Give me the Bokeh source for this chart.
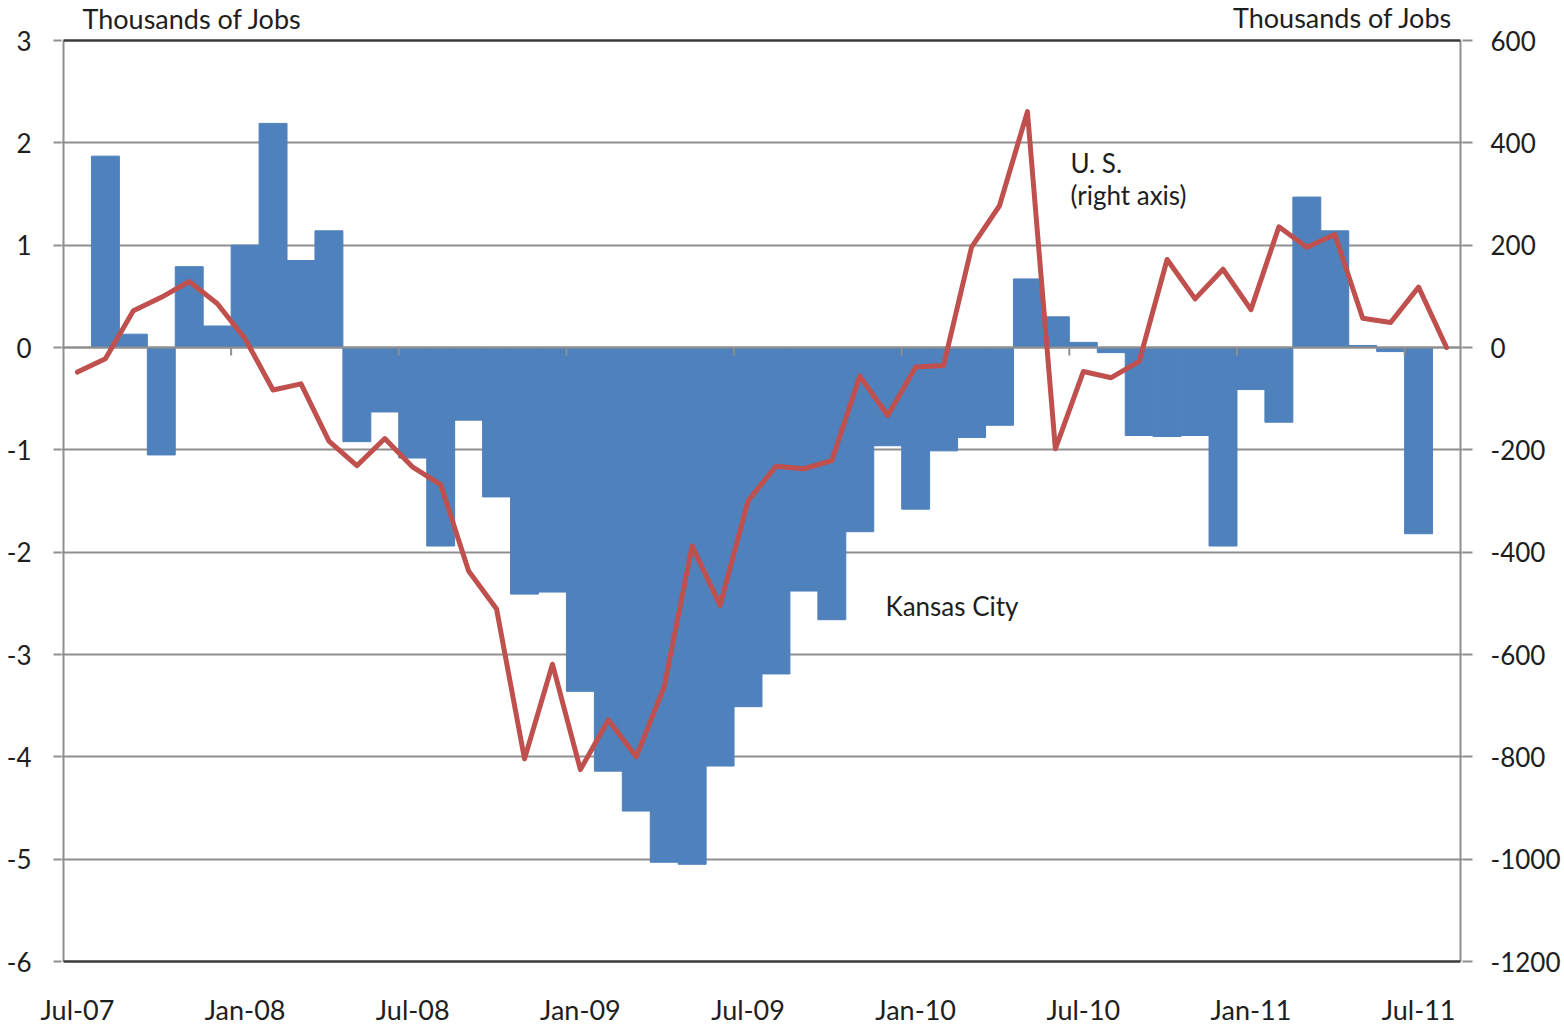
import numpy as np
from bokeh.plotting import figure
from bokeh.models import Range1d, LinearAxis, FixedTicker, Label, ColumnDataSource
from bokeh.embed import file_html
from bokeh.resources import INLINE

months = ["Jul-07", "Aug-07", "Sep-07", "Oct-07", "Nov-07", "Dec-07",
          "Jan-08", "Feb-08", "Mar-08", "Apr-08", "May-08", "Jun-08",
          "Jul-08", "Aug-08", "Sep-08", "Oct-08", "Nov-08", "Dec-08",
          "Jan-09", "Feb-09", "Mar-09", "Apr-09", "May-09", "Jun-09",
          "Jul-09", "Aug-09", "Sep-09", "Oct-09", "Nov-09", "Dec-09",
          "Jan-10", "Feb-10", "Mar-10", "Apr-10", "May-10", "Jun-10",
          "Jul-10", "Aug-10", "Sep-10", "Oct-10", "Nov-10", "Dec-10",
          "Jan-11", "Feb-11", "Mar-11", "Apr-11", "May-11", "Jun-11",
          "Jul-11", "Aug-11"]

# Kansas City, thousands of jobs (left axis)
kansas_city = [0.0, 1.87, 0.13, -1.05, 0.79, 0.21,
               1.00, 2.19, 0.85, 1.14, -0.92, -0.63,
               -1.08, -1.94, -0.71, -1.46, -2.41, -2.39,
               -3.36, -4.14, -4.53, -5.03, -5.05, -4.09,
               -3.51, -3.19, -2.38, -2.66, -1.80, -0.96,
               -1.58, -1.01, -0.88, -0.76, 0.67, 0.30,
               0.05, -0.05, -0.86, -0.87, -0.86, -1.94,
               -0.41, -0.73, 1.47, 1.14, 0.02, -0.04,
               -1.82, 0.0]

# U.S., thousands of jobs (right axis)
us = [-48, -22, 72, 98, 129, 86,
      17, -83, -71, -183, -231, -178,
      -234, -268, -437, -511, -804, -619,
      -825, -728, -800, -663, -388, -504,
      -300, -232, -237, -221, -56, -133,
      -38, -35, 196, 277, 461, -198,
      -47, -59, -27, 172, 95, 153,
      74, 236, 196, 221, 57, 49,
      118, 0]

tick_labels = ["Jul-07", "Jan-08", "Jul-08", "Jan-09", "Jul-09",
               "Jan-10", "Jul-10", "Jan-11", "Jul-11"]

left_ticks = [-6, -5, -4, -3, -2, -1, 0, 1, 2, 3]
right_ticks = [-1200, -1000, -800, -600, -400, -200, 0, 200, 400, 600]

FONT = "Lato"
TXT = "#1e1e1e"
GRID = "#8f8f8f"
EDGE = "#3a3a3a"

n = len(months)
L_MIN, L_MAX = left_ticks[0], left_ticks[-1]
R_MIN, R_MAX = right_ticks[0], right_ticks[-1]
ratio = (R_MAX - R_MIN) / (L_MAX - L_MIN)

# layout (pixels): plot box 63..1460 x 40..961 in a 1564x1028 canvas
W, H = 1564, 1028
ppx = (1460 - 63) / n
ppy = (961 - 40) / (L_MAX - L_MIN)
pad_x = 2 / ppx
top_pad = 40 / ppy
bot_pad = 3 / ppy
y_lo, y_hi = L_MIN - bot_pad, L_MAX + top_pad

xc = np.arange(n) + 0.5
src = ColumnDataSource(dict(x=xc, kc=kansas_city, us=us, m=months))

p = figure(width=W, height=H, x_range=Range1d(-pad_x, n + pad_x), y_range=Range1d(y_lo, y_hi),
           output_backend="svg", toolbar_location=None,
           min_border_left=61, min_border_right=102, min_border_top=0, min_border_bottom=64)
p.background_fill_color = "white"
p.border_fill_color = "white"
p.outline_line_color = None

p.xgrid.grid_line_color = None
p.ygrid.grid_line_color = GRID
p.ygrid.grid_line_width = 2
p.ygrid.ticker = FixedTicker(ticks=left_ticks[1:-1])

# bars
p.vbar(x="x", top="kc", bottom=0, width=1.0, source=src,
       fill_color="#4F81BD", line_color="#4F81BD", line_width=1)

# zero line and tick marks at half-year boundaries
p.segment(x0=[0], y0=[0], x1=[n], y1=[0], line_color=GRID, line_width=2)
idx = [months.index(t) for t in tick_labels[1:]]
p.segment(x0=idx, y0=[0] * len(idx), x1=idx, y1=[-8 / ppy] * len(idx),
          line_color=GRID, line_width=2)

# plot box: gray sides, dark top and bottom
p.segment(x0=[0, n], y0=[L_MIN, L_MIN], x1=[0, n], y1=[L_MAX, L_MAX],
          line_color=GRID, line_width=2)
p.segment(x0=[0, 0], y0=[L_MIN, L_MAX], x1=[n, n], y1=[L_MIN, L_MAX],
          line_color=EDGE, line_width=2.5)

# US line
p.extra_y_ranges = {"us": Range1d(R_MIN - bot_pad * ratio, R_MAX + top_pad * ratio)}
p.line(x="x", y="us", source=src, y_range_name="us",
       line_color="#C0504D", line_width=5, line_join="round", line_cap="round")

# left axis
ya = p.yaxis[0]
ya.ticker = FixedTicker(ticks=left_ticks)
ya.major_label_overrides = {t: str(t) for t in left_ticks}
ya.axis_line_color = None
ya.major_tick_line_color = GRID
ya.major_tick_line_width = 2
ya.major_tick_out = 8
ya.major_tick_in = 0
ya.minor_tick_line_color = None
ya.major_label_standoff = 22
ya.major_label_text_font = FONT
ya.major_label_text_font_size = "26px"
ya.major_label_text_color = TXT

# right axis
ra = LinearAxis(y_range_name="us", ticker=FixedTicker(ticks=right_ticks))
ra.major_label_overrides = {t: str(t) for t in right_ticks}
ra.axis_line_color = None
ra.major_tick_line_color = GRID
ra.major_tick_line_width = 2
ra.major_tick_out = 10
ra.major_tick_in = 0
ra.minor_tick_line_color = None
ra.major_label_standoff = 18
ra.major_label_text_font = FONT
ra.major_label_text_font_size = "26px"
ra.major_label_text_color = TXT
p.add_layout(ra, "right")

# bottom axis: labels centred on their months
xa = p.xaxis[0]
label_pos = [months.index(t) + 0.5 for t in tick_labels]
xa.ticker = FixedTicker(ticks=label_pos)
xa.major_label_overrides = {pos: t for pos, t in zip(label_pos, tick_labels)}
xa.axis_line_color = None
xa.major_tick_line_color = None
xa.minor_tick_line_color = None
xa.major_label_standoff = 22
xa.major_label_text_font = FONT
xa.major_label_text_font_size = "27px"
xa.major_label_text_color = TXT

# annotations
p.add_layout(Label(x=0, y=L_MAX, x_offset=19, y_offset=22, text="Thousands of Jobs",
                   text_font=FONT, text_font_size="27px", text_color=TXT,
                   text_baseline="alphabetic"))
p.add_layout(Label(x=n, y=L_MAX, x_offset=-8, y_offset=23, text="Thousands of Jobs",
                   text_font=FONT, text_font_size="27px", text_color=TXT,
                   text_align="right", text_baseline="alphabetic"))
p.add_layout(Label(x=36.04, y=1.71, y_offset=10, text="U. S.", text_font=FONT,
                   text_font_size="26px", text_color=TXT, text_baseline="alphabetic"))
p.add_layout(Label(x=36.04, y=1.40, y_offset=9, text="(right axis)", text_font=FONT,
                   text_font_size="26px", text_color=TXT, text_baseline="alphabetic"))
p.add_layout(Label(x=29.42, y=-2.63, y_offset=11, text="Kansas City", text_font=FONT,
                   text_font_size="26px", text_color=TXT, text_baseline="alphabetic"))

open("out.html", "w").write(file_html(p, INLINE))
